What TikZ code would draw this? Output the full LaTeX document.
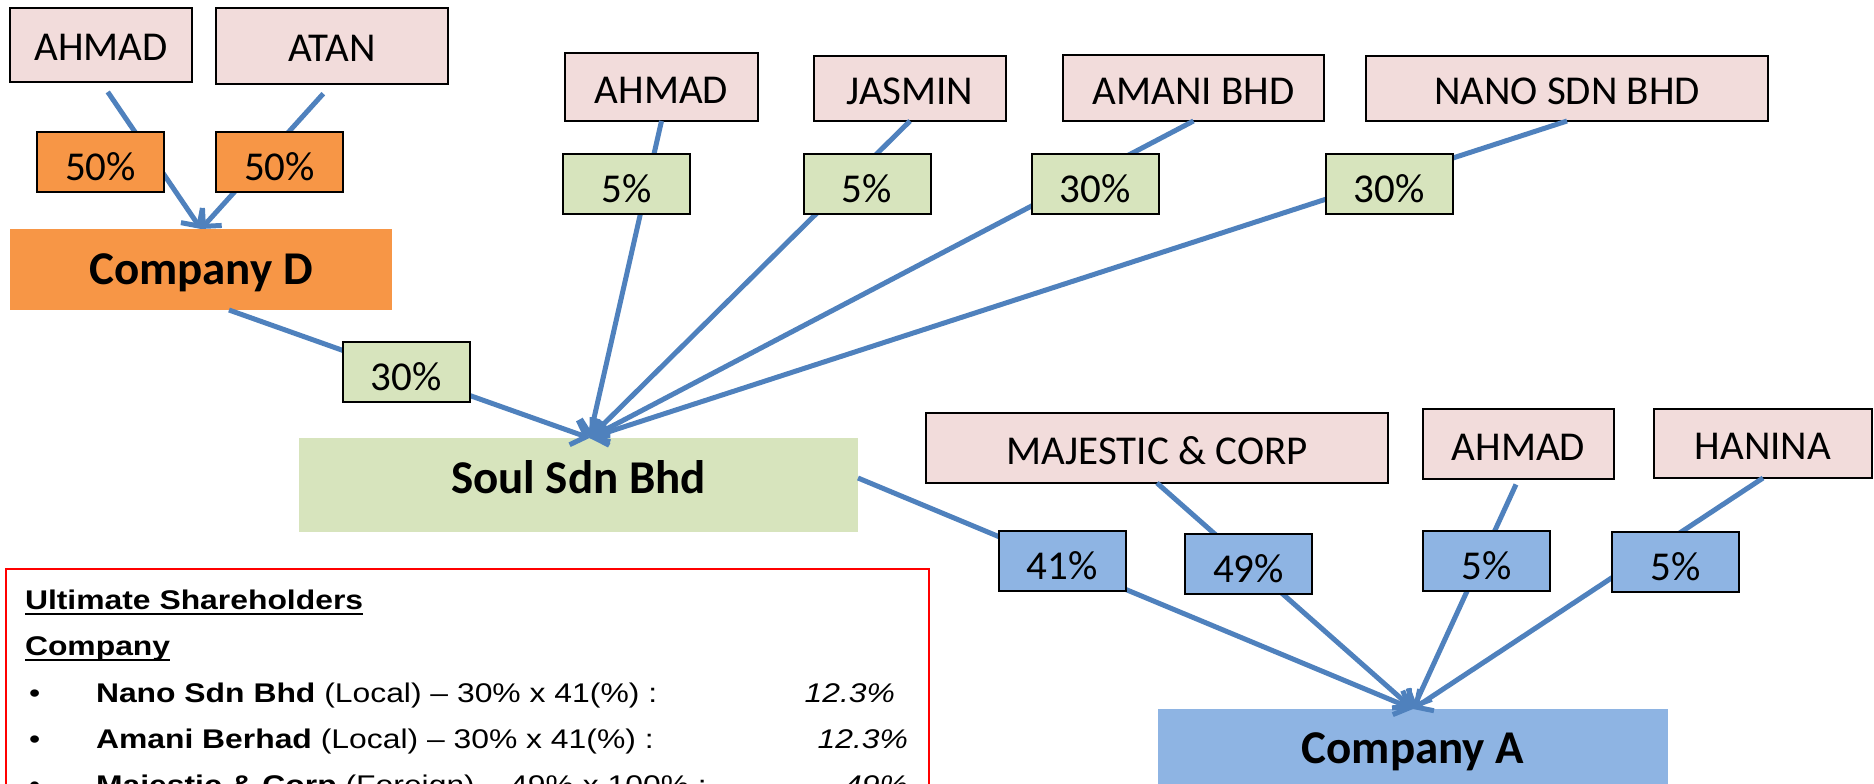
\documentclass[tikz,border=0pt]{standalone}
\usepackage{fontspec}
\setmainfont{Carlito}
\newfontfamily\notefont[FakeStretch=1.18]{Liberation Sans}
\usetikzlibrary{arrows.meta}
\definecolor{pinkfill}{HTML}{F2DCDB}
\definecolor{orangefill}{HTML}{F79646}
\definecolor{greenfill}{HTML}{D7E4BD}
\definecolor{bluefill}{HTML}{8EB4E3}
\definecolor{lineblue}{HTML}{4F81BD}
\begin{document}
\begin{tikzpicture}[x=1pt,y=-1pt,
  box/.style={draw=black, line width=2pt, inner sep=0pt, outer sep=0pt, align=center},
  pinkbox/.style={box, fill=pinkfill, font=\fontsize{41}{49}\selectfont, text height=32pt, text depth=0pt},
  pctbox/.style={box, font=\fontsize{41}{49}\selectfont, text height=37pt, text depth=0pt, minimum width=127pt, minimum height=60pt},
  orangepct/.style={pctbox, fill=orangefill},
  greenpct/.style={pctbox, fill=greenfill},
  bluepct/.style={pctbox, fill=bluefill},
  company/.style={inner sep=0pt, outer sep=0pt, font=\bfseries\fontsize{47}{56}\selectfont, text height=30pt, text depth=0pt},
  arr/.style={draw=lineblue, line width=5pt, -{Straight Barb[length=13pt,width=26pt]}},
  notetext/.style={inner sep=0pt, outer sep=0pt, anchor=base west, font=\notefont\fontsize{27}{32}\selectfont},
  notebold/.style={notetext, font=\notefont\bfseries\fontsize{27}{32}\selectfont}
]
\useasboundingbox (0,0) rectangle (1874,784);
\clip (0,0) rectangle (1874,784);

% owners
\node[pinkbox, minimum width=182pt, minimum height=74pt] (ahmadA) at (101,45) {AHMAD};
\node[pinkbox, minimum width=232pt, minimum height=76pt] (atan) at (332,46) {ATAN};
\node[pinkbox, minimum width=193pt, minimum height=68pt] (ahmadB) at (661.5,87) {AHMAD};
\node[pinkbox, minimum width=192pt, minimum height=65pt] (jasmin) at (910,88.5) {JASMIN};
\node[pinkbox, minimum width=261pt, minimum height=66pt] (amani) at (1193.5,88) {AMANI BHD};
\node[pinkbox, minimum width=402pt, minimum height=65pt] (nano) at (1567,88.5) {NANO SDN BHD};
\node[pinkbox, minimum width=462pt, minimum height=70pt] (majestic) at (1157,448) {MAJESTIC \& CORP};
\node[pinkbox, minimum width=191pt, minimum height=70pt] (ahmadC) at (1518.5,444) {AHMAD};
\node[pinkbox, minimum width=218pt, minimum height=69pt] (hanina) at (1763,443.5) {HANINA};

% companies
\node[company, fill=orangefill, minimum width=382pt, minimum height=81pt] (cd) at (201,269.5) {Company D};
\node[company, fill=greenfill, minimum width=559pt, minimum height=94pt, text height=16pt] (soul) at (578.5,485) {Soul Sdn Bhd};
\node[company, fill=bluefill, minimum width=510pt, minimum height=79pt] (ca) at (1413,748.5) {Company A};

% connectors
\draw[arr, shorten <=12pt] (ahmadA.south) -- (cd.north);
\draw[arr, shorten <=13pt] (atan.south) -- (cd.north);
\draw[arr] ([xshift=28pt]cd.south) -- ([xshift=11pt]soul.north);
\draw[arr] (ahmadB.south) -- ([xshift=11pt]soul.north);
\draw[arr] (jasmin.south) -- ([xshift=11pt]soul.north);
\draw[arr] (amani.south) -- ([xshift=11pt]soul.north);
\draw[arr] (nano.south) -- ([xshift=11pt]soul.north);
\draw[arr] ([yshift=7pt]soul.east) -- (ca.north);
\draw[arr] (majestic.south) -- (ca.north);
\draw[arr, shorten <=6pt] (ahmadC.south) -- (ca.north);
\draw[arr] (hanina.south) -- (ca.north);

% percentages
\node[orangepct] (p50a) at (100.5,161.5) {50\%};
\node[orangepct] (p50b) at (279.5,161.5) {50\%};
\node[greenpct] (g30c) at (406,372) {30\%};
\node[greenpct] (g5a) at (626.5,184) {5\%};
\node[greenpct] (g5b) at (867,184) {5\%};
\node[greenpct] (g30a) at (1095,184) {30\%};
\node[greenpct] (g30b) at (1389,184) {30\%};
\node[bluepct] (b41) at (1062,561) {41\%};
\node[bluepct] (b49) at (1248.5,564) {49\%};
\node[bluepct] (b5a) at (1486.5,561) {5\%};
\node[bluepct] (b5b) at (1675.5,562) {5\%};

% note
\node[draw=red, line width=1.5pt, inner sep=0pt, outer sep=0pt, anchor=north west,
      minimum width=923pt, minimum height=241pt] (notebox) at (6,569) {};
\node[notebold] (h1) at (25,609) {Ultimate Shareholders};
\draw[line width=2.5pt] ([yshift=-5pt]h1.base west) -- ([yshift=-5pt]h1.base east);
\node[notebold] (h2) at (25,655) {Company};
\draw[line width=2.5pt] ([yshift=-5pt]h2.base west) -- ([yshift=-5pt]h2.base east);
\node[notetext] (d1) at (29,702) {•};
\node[notetext] (t1) at (96,702) {\textbf{Nano Sdn Bhd} (Local) – 30\% x 41(\%) :};
\node[notetext, anchor=base east] (v1) at (895,702) {\itshape 12.3\%};
\node[notetext] (d2) at (29,748) {•};
\node[notetext] (t2) at (96,748) {\textbf{Amani Berhad} (Local) – 30\% x 41(\%) :};
\node[notetext, anchor=base east] (v2) at (908,748) {\itshape 12.3\%};
\node[notetext] (d3) at (29,794) {•};
\node[notetext] (t3) at (96,794) {\textbf{Majestic \& Corp} (Foreign) – 49\%  x 100\% :};
\node[notetext, anchor=base east] (v3) at (908,794) {\itshape 49\%};
\end{tikzpicture}
\end{document}
